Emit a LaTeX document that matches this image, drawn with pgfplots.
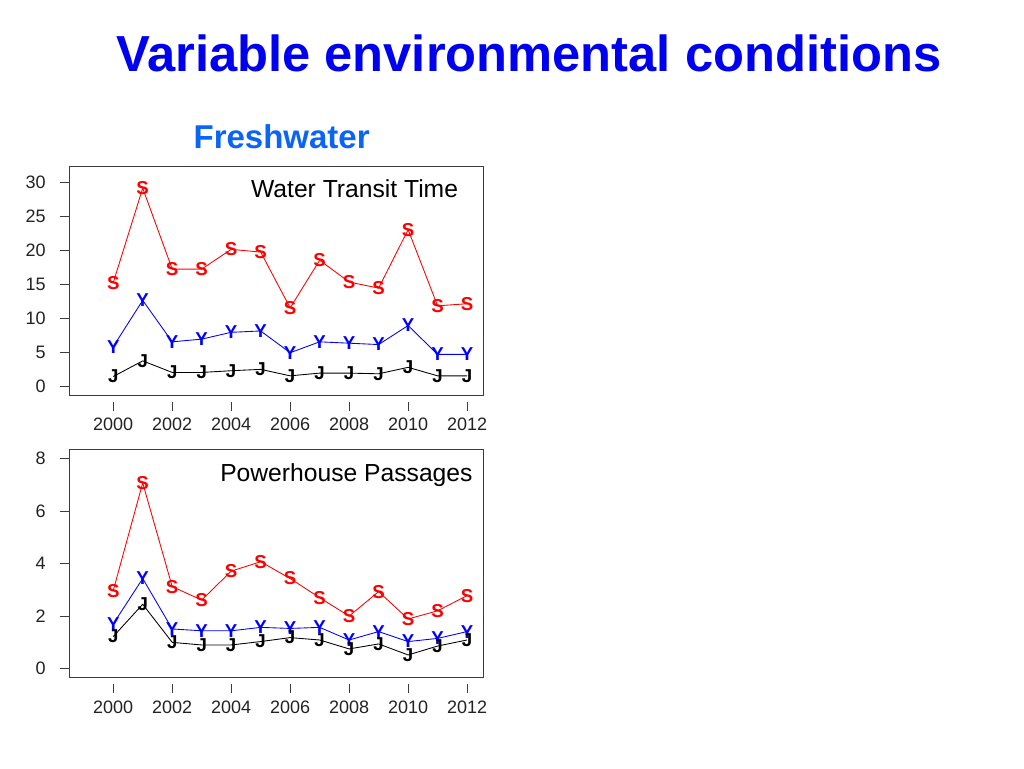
\documentclass[border=0pt]{standalone}
\usepackage{pgfplots}
\pgfplotsset{compat=1.18}
\usepackage{fontspec}
\setmainfont{Liberation Sans}
\definecolor{titleblue}{RGB}{0,0,240}
\definecolor{subblue}{RGB}{10,100,245}
\definecolor{framegray}{RGB}{60,60,60}
\definecolor{ticktext}{RGB}{35,35,35}

\pgfplotsset{
  rplot/.style={
    scale only axis,
    width=310.5pt,
    xmin=1998.5, xmax=2012.54,
    axis line style={framegray, line width=0.75pt},
    tick style={framegray, line width=0.75pt},
    tick align=outside,
    xtick={2000,2002,...,2012},
    xtick pos=bottom, ytick pos=left,
    major tick length=7pt,
    xtick style={yshift=-5pt},
    /pgf/number format/assume math mode=true,
    /pgf/number format/1000 sep={},
    ticklabel style={font=\fontsize{13.5}{14}\selectfont, text=ticktext},
    xticklabel style={yshift=-7pt},
    yticklabel style={xshift=-7pt},
    every axis plot/.append style={line width=0.65pt},
    text mark as node=true,
  },
  smark/.style={red, mark=text, text mark={S},
    text mark style={font=\bfseries\fontsize{14}{14}\selectfont, text=red, inner sep=0pt}},
  ymark/.style={blue, mark=text, text mark={Y},
    text mark style={font=\bfseries\fontsize{14}{14}\selectfont, text=blue, inner sep=0pt}},
  jmark/.style={black, mark=text, text mark={J},
    text mark style={font=\bfseries\fontsize{14}{14}\selectfont, text=black, inner sep=0pt}},
}

\begin{document}
\begin{tikzpicture}
\path[use as bounding box, fill=white] (0,0) rectangle (768pt,-576pt);

\node[anchor=base west, inner sep=0pt, text=titleblue, font=\bfseries\fontsize{38}{40}\selectfont]
  at (87pt,-53.8pt) {Variable environmental conditions};
\node[anchor=base west, inner sep=0pt, text=subblue, font=\bfseries\fontsize{24.75}{26}\selectfont]
  at (145pt,-111.2pt) {Freshwater};

% Water transit time
\begin{axis}[rplot,
  at={(51.75pt,-296.25pt)}, anchor=south west,
  height=171.75pt,
  ymin=-1.22, ymax=32.46,
  ytick={0,5,...,30},
]
\addplot[smark] coordinates {(2000,15.3) (2001,29.2) (2002,17.3) (2003,17.3) (2004,20.2) (2005,19.8) (2006,11.6) (2007,18.6) (2008,15.4) (2009,14.5) (2010,23.1) (2011,11.9) (2012,12.2)};
\addplot[ymark] coordinates {(2000,5.9) (2001,12.7) (2002,6.6) (2003,7.0) (2004,8.0) (2005,8.2) (2006,5.0) (2007,6.6) (2008,6.4) (2009,6.2) (2010,9.0) (2011,4.75) (2012,4.75)};
\addplot[jmark] coordinates {(2000,1.5) (2001,3.8) (2002,2.1) (2003,2.1) (2004,2.35) (2005,2.55) (2006,1.6) (2007,2.0) (2008,2.0) (2009,1.9) (2010,2.85) (2011,1.6) (2012,1.6)};
\end{axis}
\node[anchor=base east, inner sep=0pt, font=\fontsize{18.5}{20}\selectfont]
  at (343.7pt,-147.75pt) {Water Transit Time};

% Powerhouse passages
\begin{axis}[rplot,
  at={(51.75pt,-507.9pt)}, anchor=south west,
  height=170.5pt,
  ymin=-0.327, ymax=8.327,
  ytick={0,2,...,8},
]
\addplot[smark] coordinates {(2000,2.97) (2001,7.07) (2002,3.12) (2003,2.61) (2004,3.71) (2005,4.07) (2006,3.43) (2007,2.70) (2008,2.0) (2009,2.93) (2010,1.89) (2011,2.2) (2012,2.78)};
\addplot[ymark] coordinates {(2000,1.70) (2001,3.43) (2002,1.51) (2003,1.44) (2004,1.44) (2005,1.57) (2006,1.53) (2007,1.57) (2008,1.09) (2009,1.41) (2010,1.03) (2011,1.15) (2012,1.41)};
\addplot[jmark] coordinates {(2000,1.22) (2001,2.45) (2002,1.0) (2003,0.9) (2004,0.9) (2005,1.03) (2006,1.18) (2007,1.09) (2008,0.75) (2009,0.94) (2010,0.52) (2011,0.86) (2012,1.09)};
\end{axis}
\node[anchor=base west, inner sep=0pt, font=\fontsize{18.5}{20}\selectfont]
  at (165pt,-360.75pt) {Powerhouse Passages};
\end{tikzpicture}
\end{document}
